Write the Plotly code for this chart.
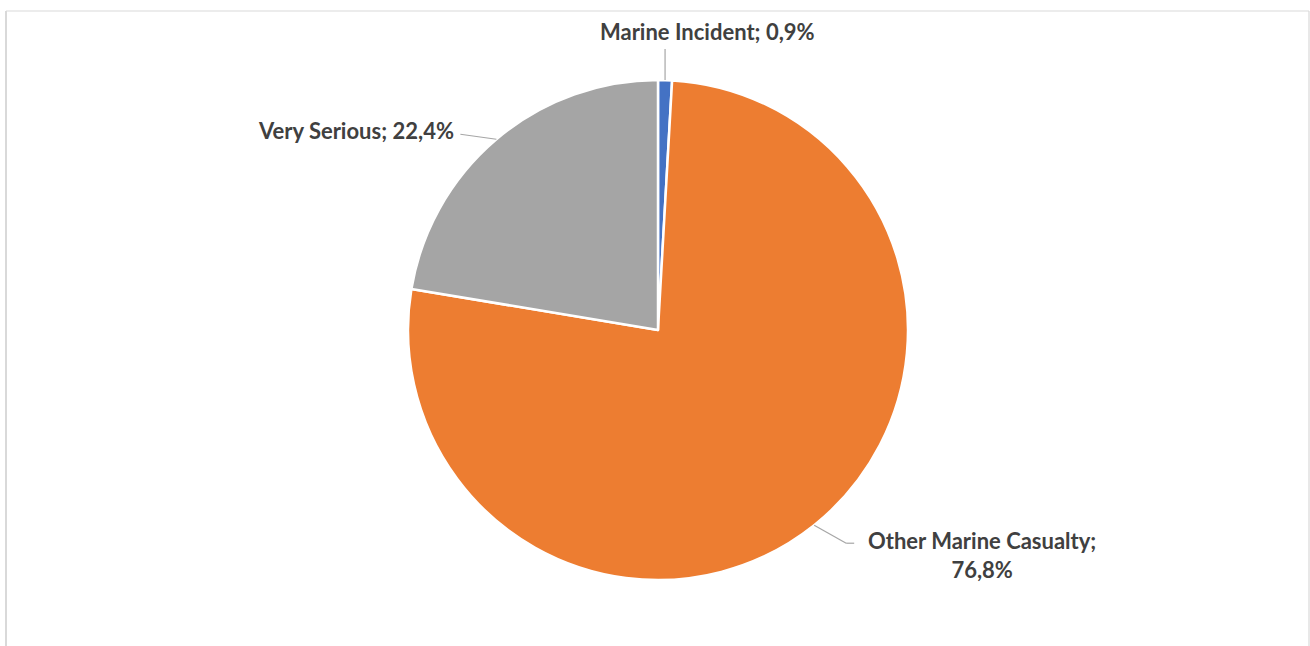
import math
import plotly.graph_objects as go

categories = ["Marine Incident", "Other Marine Casualty", "Very Serious"]
values = [0.9, 76.8, 22.4]
label_texts = ["Marine Incident; 0,9%", "Other Marine Casualty;<br>76,8%", "Very Serious; 22,4%"]
colors = ["#4472C4", "#ED7D31", "#A5A5A5"]

W, H = 1310, 646
CX, CY, R = 658, 330, 250

def px(x):
    return x / W

def py(y):
    return 1 - y / H

fig = go.Figure()
fig.add_trace(go.Pie(
    labels=categories,
    values=values,
    sort=False,
    direction="clockwise",
    rotation=0,
    marker=dict(colors=colors, line=dict(color="white", width=2.5)),
    textinfo="none",
    hoverinfo="label+percent",
    showlegend=False,
    domain=dict(x=[px(CX - R), px(CX + R)], y=[py(CY + R), py(CY - R)]),
))

total = sum(values)
cum = 0
shapes = []
annotations = []
label_cfg = [
    dict(path=[(0, -31)], text=(708, 31), xanchor="center"),
    dict(path=[(32, 18), (40, 18)], text=(982, 555), xanchor="center"),
    dict(path=[(-36, -5)], text=(456, 130), xanchor="right"),
]
for i, v in enumerate(values):
    mid = (cum + v / 2) / total * 2 * math.pi
    cum += v
    ex = CX + R * math.sin(mid)
    ey = CY - R * math.cos(mid)
    pts = [(ex, ey)] + [(ex + dx, ey + dy) for dx, dy in label_cfg[i]["path"]]
    for (x0, y0), (x1, y1) in zip(pts[:-1], pts[1:]):
        shapes.append(dict(type="line", xref="paper", yref="paper",
                           x0=px(x0), y0=py(y0), x1=px(x1), y1=py(y1),
                           line=dict(color="#A6A6A6", width=1.2)))
    tx, ty = label_cfg[i]["text"]
    annotations.append(dict(
        x=px(tx), y=py(ty), xref="paper", yref="paper",
        text="<b>" + label_texts[i] + "</b>", showarrow=False,
        xanchor=label_cfg[i]["xanchor"], yanchor="middle", align="center",
        font=dict(family="Lato, Calibri, sans-serif", size=22, color="#404040"),
    ))

frame = "#D9D9D9"
shapes += [
    dict(type="line", xref="paper", yref="paper", x0=px(6), y0=py(11), x1=px(1309), y1=py(11),
         line=dict(color=frame, width=1.2)),
    dict(type="line", xref="paper", yref="paper", x0=px(6), y0=py(11), x1=px(6), y1=py(660),
         line=dict(color=frame, width=2)),
    dict(type="line", xref="paper", yref="paper", x0=px(1309), y0=py(11), x1=px(1309), y1=py(660),
         line=dict(color=frame, width=1.2)),
]

fig.update_layout(
    width=W, height=H,
    margin=dict(l=0, r=0, t=0, b=0),
    paper_bgcolor="white",
    plot_bgcolor="white",
    shapes=shapes,
    annotations=annotations,
)

fig.write_html("out.html")
